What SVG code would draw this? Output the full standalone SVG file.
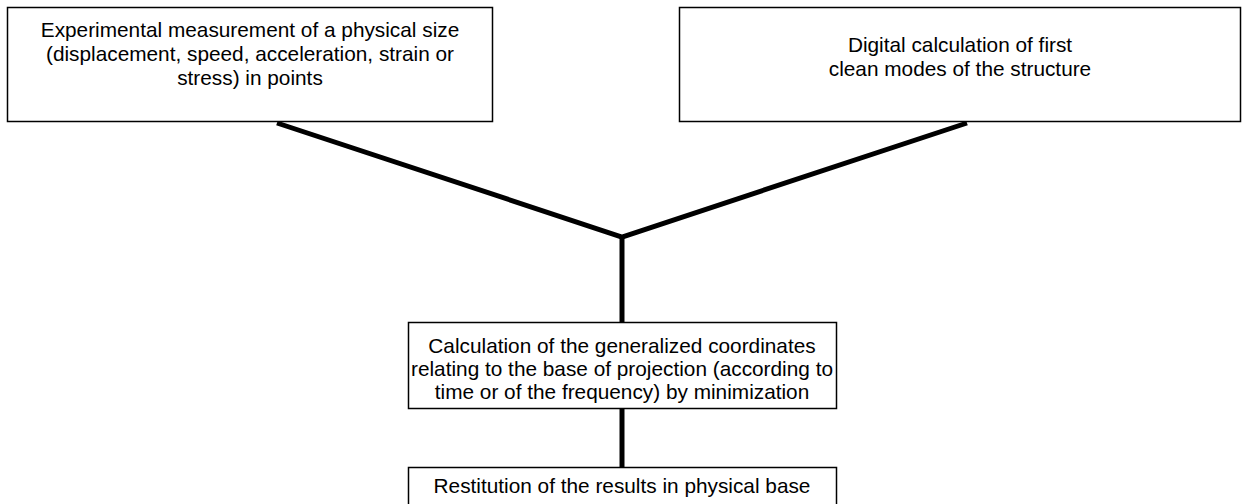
<svg xmlns="http://www.w3.org/2000/svg" width="1248" height="504" viewBox="0 0 1248 504">
<style>
.box{fill:#fff;stroke:#000;stroke-width:1.5}
.t{font-family:"Liberation Sans",Arial,sans-serif;font-size:20.8px;fill:#000;text-anchor:middle}
.c{stroke:#000;stroke-width:5;fill:none;stroke-linejoin:miter}
</style>
<rect width="1248" height="504" fill="#fff"/>
<g id="connectors">
<polyline class="c" points="277,123 622,237 967,123"/>
<line class="c" x1="622" y1="237" x2="622" y2="322"/>
<line class="c" x1="622" y1="409" x2="622" y2="467"/>
</g>
<g id="n1">
<rect class="box" x="7.5" y="7.5" width="485" height="114"/>
<text class="t" x="250" y="37">Experimental measurement of a physical size</text>
<text class="t" x="250" y="61">(displacement, speed, acceleration, strain or</text>
<text class="t" x="250" y="85">stress) in points</text>
</g>
<g id="n2">
<rect class="box" x="679.5" y="7.5" width="561" height="114"/>
<text class="t" x="960" y="52">Digital calculation of first</text>
<text class="t" x="960" y="76">clean modes of the structure</text>
</g>
<g id="n3">
<rect class="box" x="408.5" y="322.5" width="428" height="86"/>
<text class="t" x="622" y="353">Calculation of the generalized coordinates</text>
<text class="t" x="622" y="376">relating to the base of projection (according to</text>
<text class="t" x="622" y="399">time or of the frequency) by minimization</text>
</g>
<g id="n4">
<rect class="box" x="408.5" y="467.5" width="428" height="40"/>
<text class="t" x="622" y="493">Restitution of the results in physical base</text>
</g>
</svg>
